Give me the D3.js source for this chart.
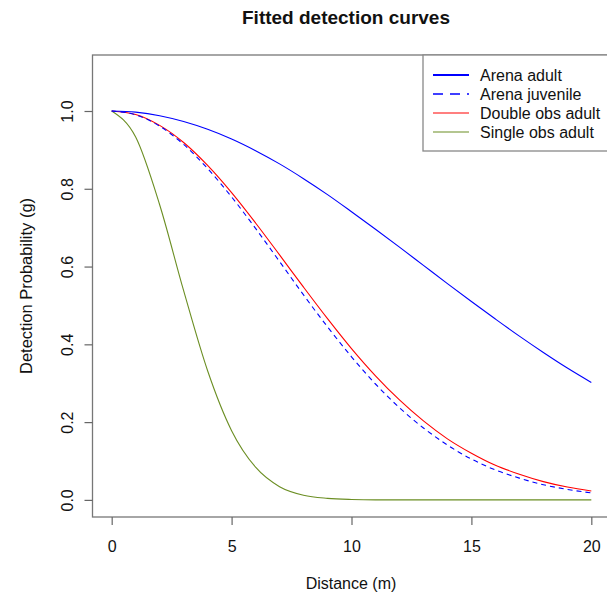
<!DOCTYPE html>
<html>
<head>
<meta charset="utf-8">
<script src="https://cdn.jsdelivr.net/npm/d3@7"></script>
<style>
  body { margin: 0; background: #fff; }
  text { font-family: "Liberation Sans", Arial, sans-serif; fill: #111; }
</style>
</head>
<body>
<svg width="607" height="595"></svg>
<script>
var distance = [0, 1, 2, 3, 4, 5, 6, 7, 8, 9, 10, 11, 12, 13, 14, 15, 16, 17, 18, 19, 20];

var arenaAdult = [1, 0.997, 0.988, 0.973, 0.953, 0.928, 0.898, 0.864, 0.826, 0.785, 0.741,
  0.696, 0.650, 0.603, 0.556, 0.510, 0.465, 0.421, 0.379, 0.339, 0.302];
var arenaJuvenile = [1, 0.990, 0.961, 0.914, 0.852, 0.779, 0.698, 0.613, 0.527, 0.445, 0.368,
  0.298, 0.237, 0.185, 0.141, 0.105, 0.077, 0.056, 0.039, 0.027, 0.018];
var doubleObsAdult = [1, 0.991, 0.963, 0.919, 0.860, 0.790, 0.712, 0.630, 0.547, 0.466, 0.389,
  0.319, 0.257, 0.203, 0.157, 0.120, 0.089, 0.066, 0.047, 0.033, 0.023];
var singleObsAdult = [1, 0.933, 0.759, 0.538, 0.332, 0.178, 0.084, 0.034, 0.012, 0.004, 0.001,
  0, 0, 0, 0, 0, 0, 0, 0, 0, 0];

var xTicks = [0, 5, 10, 15, 20];
var yTicks = [0, 0.2, 0.4, 0.6, 0.8, 1.0];

var series = [
  {name: 'Arena adult', values: arenaAdult, color: 'blue', dash: null, legendWidth: 2},
  {name: 'Arena juvenile', values: arenaJuvenile, color: 'blue', dash: '5,4', legendWidth: 1.5},
  {name: 'Double obs adult', values: doubleObsAdult, color: 'red', dash: null, legendWidth: 1.2},
  {name: 'Single obs adult', values: singleObsAdult, color: '#6b8e23', dash: null, legendWidth: 1.2}
];

var svg = d3.select('svg');
var frame = {left: 92.5, right: 610.5, top: 55, bottom: 517};

// R style 4% padding around xlim = c(0, 20), ylim = c(0, 1.1)
var x = d3.scaleLinear().domain([-0.8, 20.8]).range([frame.left, frame.right]);
var y = d3.scaleLinear().domain([-0.044, 1.144]).range([frame.bottom, frame.top]);

svg.append('text')
  .attr('x', 346)
  .attr('y', 24)
  .attr('text-anchor', 'middle')
  .style('font-size', '19px')
  .style('font-weight', 'bold')
  .text('Fitted detection curves');

// curves
var line = d3.line()
  .curve(d3.curveMonotoneX)
  .x(function(d, i) { return x(distance[i]); })
  .y(function(d) { return y(d); });

var plot = svg.append('g');
series.slice().reverse().forEach(function(s) {
  plot.append('path')
    .datum(s.values)
    .attr('d', line)
    .attr('fill', 'none')
    .attr('stroke', s.color)
    .attr('stroke-width', 1.1)
    .attr('stroke-dasharray', s.dash);
});

// box
svg.append('rect')
  .attr('x', frame.left)
  .attr('y', frame.top)
  .attr('width', frame.right - frame.left)
  .attr('height', frame.bottom - frame.top)
  .attr('fill', 'none')
  .attr('stroke', '#777')
  .attr('stroke-width', 1.3);

// x axis
var xAxis = svg.append('g')
  .attr('transform', 'translate(0,' + frame.bottom + ')')
  .call(d3.axisBottom(x).tickValues(xTicks).tickFormat(d3.format('d')).tickSize(8));
xAxis.select('.domain').remove();
xAxis.selectAll('line').attr('stroke', '#666').attr('stroke-width', 1.2);
xAxis.selectAll('text')
  .attr('y', 35)
  .attr('dy', null)
  .attr('fill', '#111')
  .style('font-size', '16px');

// y axis, labels turned like R's las = 0
var yAxis = svg.append('g')
  .attr('transform', 'translate(' + frame.left + ',0)')
  .call(d3.axisLeft(y).tickValues(yTicks).tickFormat(d3.format('.1f')).tickSize(8));
yAxis.select('.domain').remove();
yAxis.selectAll('line').attr('stroke', '#666').attr('stroke-width', 1.2);
yAxis.selectAll('text')
  .attr('x', null)
  .attr('dy', null)
  .attr('text-anchor', 'middle')
  .attr('transform', 'translate(-20,0) rotate(-90)')
  .attr('fill', '#111')
  .style('font-size', '16px');

svg.append('text')
  .attr('x', 351)
  .attr('y', 589)
  .attr('text-anchor', 'middle')
  .style('font-size', '16px')
  .text('Distance (m)');

svg.append('text')
  .attr('transform', 'translate(32,' + ((frame.top + frame.bottom) / 2) + ') rotate(-90)')
  .attr('text-anchor', 'middle')
  .style('font-size', '16.5px')
  .text('Detection Probability (g)');

// legend (topright)
var legend = svg.append('g');
legend.append('rect')
  .attr('x', 423)
  .attr('y', frame.top)
  .attr('width', frame.right - 423)
  .attr('height', 96)
  .attr('fill', '#fff')
  .attr('stroke', '#888')
  .attr('stroke-width', 1.3);

var item = legend.selectAll('.item')
  .data(series)
  .enter()
  .append('g')
  .attr('class', 'item')
  .attr('transform', function(d, i) { return 'translate(0,' + (75 + i * 19) + ')'; });

item.append('line')
  .attr('x1', 433)
  .attr('x2', 469)
  .attr('stroke', function(d) { return d.color; })
  .attr('stroke-width', function(d) { return d.legendWidth; })
  .attr('stroke-dasharray', function(d) { return d.dash ? '10,7' : null; });

item.append('text')
  .attr('x', 480)
  .attr('y', 5.5)
  .style('font-size', '16px')
  .text(function(d) { return d.name; });
</script>
</body>
</html>
